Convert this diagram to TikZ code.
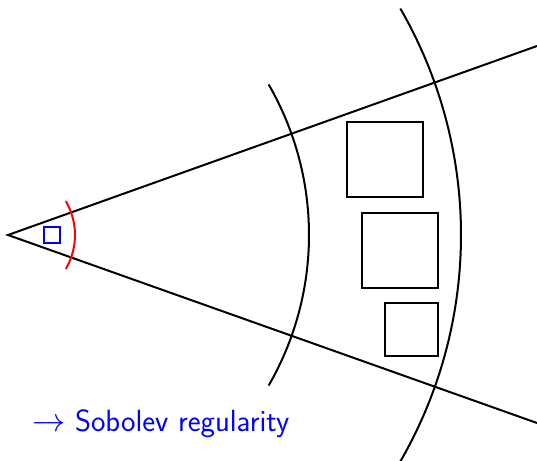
\documentclass[tikz,border=0pt]{standalone}
\usepackage{tikz}
\usetikzlibrary{calc}
\begin{document}
\begin{tikzpicture}[x=0.75pt,y=-0.75pt,
  thinline/.style={line width=1.5pt,black},
  boxstyle/.style={draw,line width=1.5pt,black,inner sep=0pt},
  lbl/.style={text=blue,font=\sffamily\fontsize{23}{27}\selectfont,inner sep=0pt,anchor=base west}]
\useasboundingbox (0,0) rectangle (537,461);
\coordinate (O) at (8,235);
\coordinate (U) at (537,46);
\coordinate (L) at (537,423);
\begin{scope}
\clip (0,0) rectangle (537,461);
\draw[thinline] (U) -- (O) -- (L);
\draw[thinline] ($(O)+(30:301)$) arc[start angle=30,end angle=-30,radius=301];
\draw[thinline] ($(O)+(30:453)$) arc[start angle=30,end angle=-30,radius=453];
\draw[line width=1.5pt,red] ($(O)+(30.4:67)$) arc[start angle=30.4,end angle=-30.4,radius=67];
\end{scope}
\node[draw=blue,line width=1.5pt,minimum size=12pt,inner sep=0pt] (sq) at (52,235) {};
\draw[boxstyle] (347,122) rectangle (423,197);
\draw[boxstyle] (362,213) rectangle (438,288);
\draw[boxstyle] (385,303) rectangle (438,356);
\node[lbl] (t) at (32,431) {$\rightarrow$ Sobolev regularity};
\end{tikzpicture}
\end{document}
